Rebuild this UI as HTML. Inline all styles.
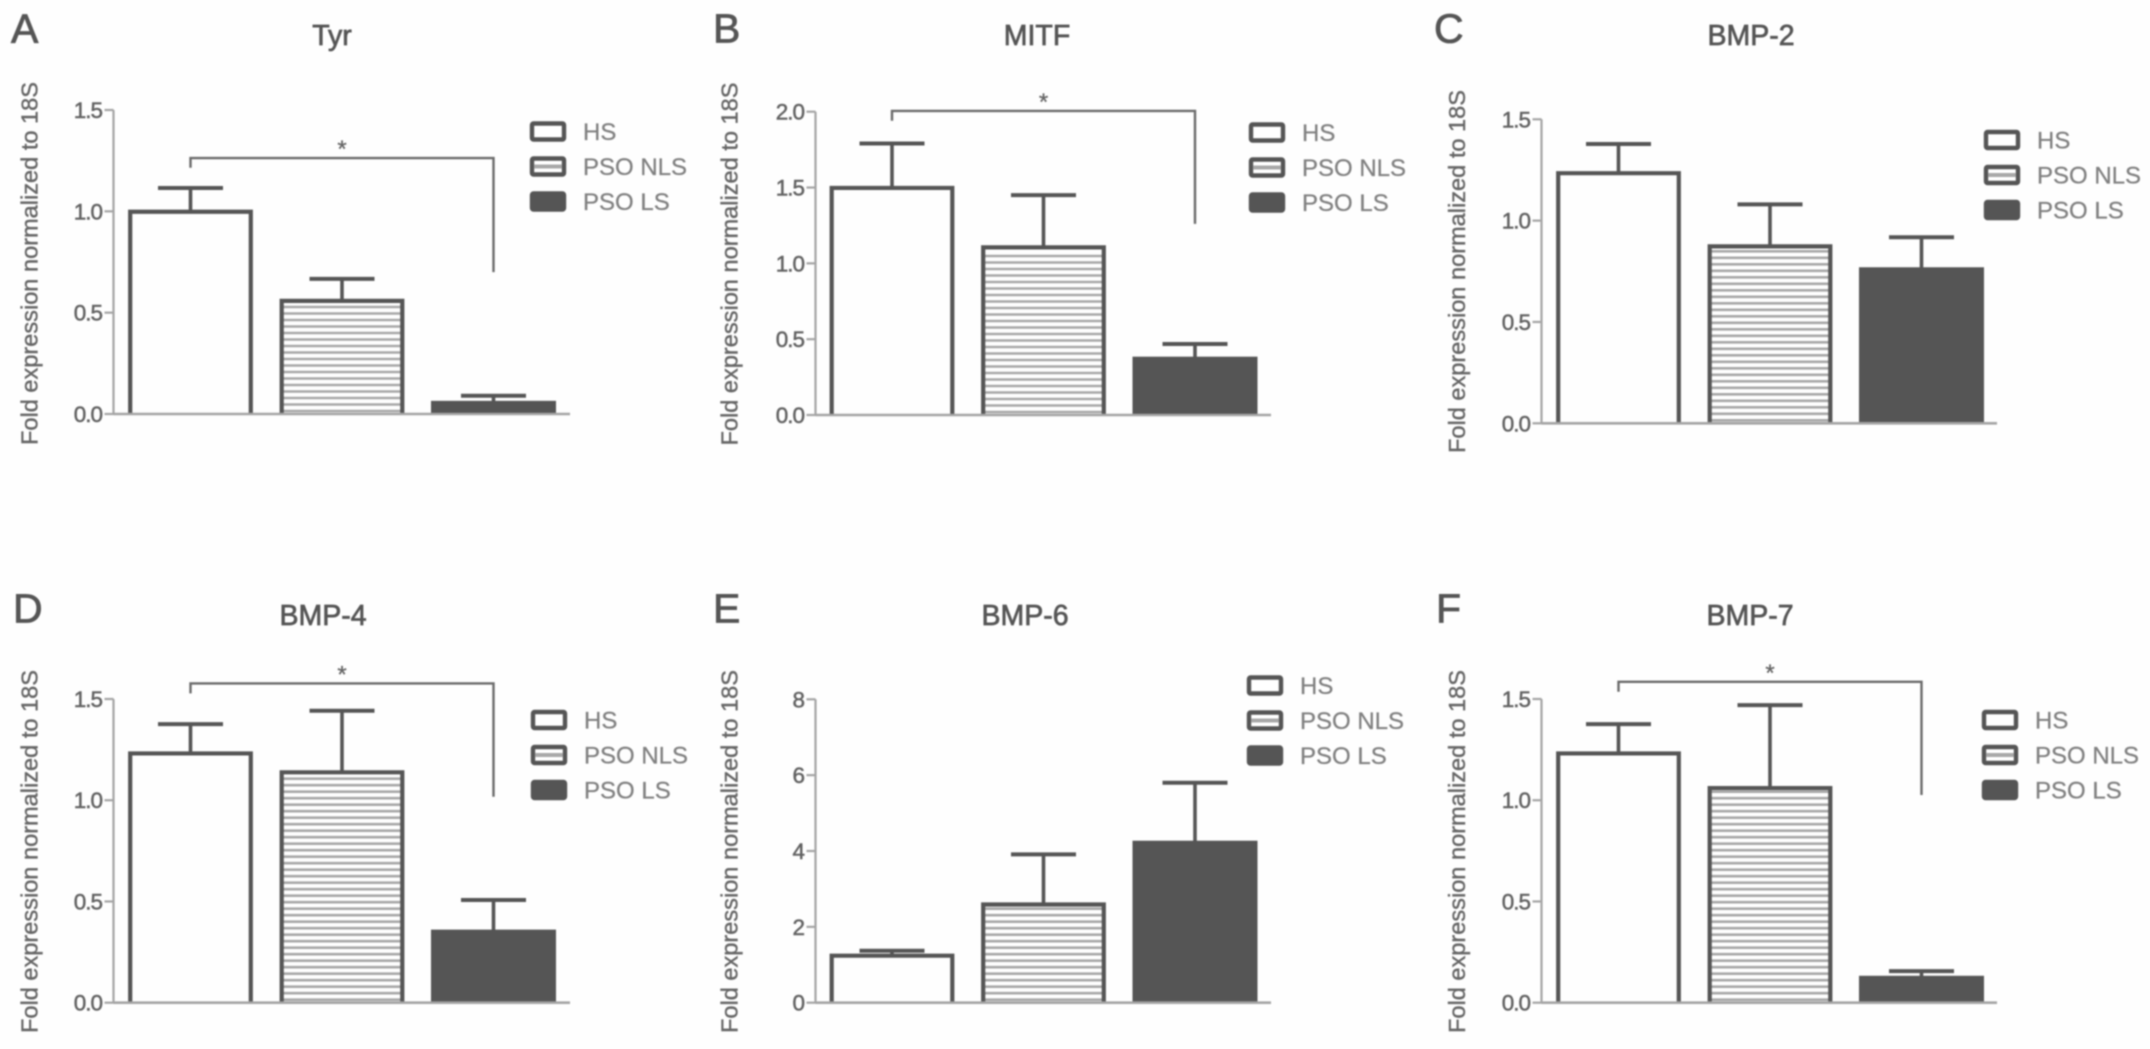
<!DOCTYPE html>
<html lang="en">
<head>
<meta charset="utf-8">
<title>Fold expression of melanogenesis genes</title>
<style>
html,body{margin:0;padding:0;background:#fefefe;width:2150px;height:1049px;overflow:hidden}
svg{display:block;filter:blur(.7px);font-family:"Liberation Sans",Arial,sans-serif}
</style>
</head>
<body>
<svg id="figure" xmlns="http://www.w3.org/2000/svg" width="2150" height="1049" viewBox="0 0 2150 1049"></svg>
<script>
const groups = ['HS', 'PSO NLS', 'PSO LS'];

const panelLetters = ['A', 'B', 'C', 'D', 'E', 'F'];
const panelTitles = ['Tyr', 'MITF', 'BMP-2', 'BMP-4', 'BMP-6', 'BMP-7'];
const yAxisTitle = 'Fold expression normalized to 18S';

const tyrMeans = [1.0, 0.56, 0.06];
const tyrUpper = [1.115, 0.667, 0.09];
const tyrTicks = [0, 0.5, 1.0, 1.5];
const tyrTickLabels = ['0.0', '0.5', '1.0', '1.5'];
const tyrBracket = [1.263, 1.215, 0.70];

const mitfMeans = [1.5, 1.108, 0.378];
const mitfUpper = [1.79, 1.45, 0.468];
const mitfTicks = [0, 0.5, 1.0, 1.5, 2.0];
const mitfTickLabels = ['0.0', '0.5', '1.0', '1.5', '2.0'];
const mitfBracket = [2.005, 1.94, 1.26];

const bmp2Means = [1.236, 0.875, 0.765];
const bmp2Upper = [1.378, 1.08, 0.918];
const bmp2Ticks = [0, 0.5, 1.0, 1.5];
const bmp2TickLabels = ['0.0', '0.5', '1.0', '1.5'];
const bmp2Bracket = null;

const bmp4Means = [1.233, 1.14, 0.356];
const bmp4Upper = [1.376, 1.442, 0.507];
const bmp4Ticks = [0, 0.5, 1.0, 1.5];
const bmp4TickLabels = ['0.0', '0.5', '1.0', '1.5'];
const bmp4Bracket = [1.577, 1.528, 1.017];

const bmp6Means = [1.25, 2.6, 4.245];
const bmp6Upper = [1.37, 3.91, 5.8];
const bmp6Ticks = [0, 2, 4, 6, 8];
const bmp6TickLabels = ['0', '2', '4', '6', '8'];
const bmp6Bracket = null;

const bmp7Means = [1.233, 1.062, 0.128];
const bmp7Upper = [1.376, 1.47, 0.156];
const bmp7Ticks = [0, 0.5, 1.0, 1.5];
const bmp7TickLabels = ['0.0', '0.5', '1.0', '1.5'];
const bmp7Bracket = [1.585, 1.536, 1.026];

const panelMeans = [tyrMeans, mitfMeans, bmp2Means, bmp4Means, bmp6Means, bmp7Means];
const panelUpper = [tyrUpper, mitfUpper, bmp2Upper, bmp4Upper, bmp6Upper, bmp7Upper];
const panelTicks = [tyrTicks, mitfTicks, bmp2Ticks, bmp4Ticks, bmp6Ticks, bmp7Ticks];
const panelTickLabels = [tyrTickLabels, mitfTickLabels, bmp2TickLabels, bmp4TickLabels, bmp6TickLabels, bmp7TickLabels];
const panelBrackets = [tyrBracket, mitfBracket, bmp2Bracket, bmp4Bracket, bmp6Bracket, bmp7Bracket];

/* Layout only (pixels) — no data values here */
const layouts = [
  {axisX:113.5, top:110,   base:414,    barX:128,    lineEnd:570,  titleX:332,  titleY:45,  letterX:11,   letterY:42.7, yTitleX:37.5,   yTitleC:263.5, legX:530,  legY:121.5},
  {axisX:815.5, top:111.7, base:415,    barX:829.5,  lineEnd:1271, titleX:1037, titleY:45,  letterX:713,  letterY:42.7, yTitleX:737.5,  yTitleC:264,   legX:1249, legY:122.5},
  {axisX:1541.5, top:119.3, base:423.3, barX:1556,   lineEnd:1997, titleX:1751, titleY:45,  letterX:1434, letterY:42.7, yTitleX:1465,   yTitleC:271.5, legX:1984, legY:130},
  {axisX:113.5, top:699,   base:1002.7, barX:128,    lineEnd:570,  titleX:323,  titleY:625, letterX:13,   letterY:622.7, yTitleX:37.5,  yTitleC:851.5, legX:531,  legY:710},
  {axisX:815.5, top:699.3, base:1002.7, barX:829.5,  lineEnd:1271, titleX:1025, titleY:625, letterX:713,  letterY:622.7, yTitleX:737.5, yTitleC:851.5, legX:1247, legY:675.5},
  {axisX:1541.5, top:699,  base:1002.7, barX:1556,   lineEnd:1997, titleX:1750, titleY:625, letterX:1436, letterY:622.7, yTitleX:1465,  yTitleC:851.5, legX:1982, legY:710}
];

const barWidth = 125;
const barStep = 151.5;
const ink = '#555555';
const axisInk = '#a4a4a4';
const stripeInk = '#a8a8a8';
const stripeGap = 6.5;
const NS = 'http://www.w3.org/2000/svg';
const figure = document.getElementById('figure');

function make(parent, tag, attrs, text) {
  const node = document.createElementNS(NS, tag);
  for (const key in attrs) node.setAttribute(key, attrs[key]);
  if (text !== undefined) node.textContent = text;
  parent.appendChild(node);
  return node;
}

function slug(s) {
  return s.toLowerCase().replace(/[^a-z0-9]+/g, '-');
}

panelTitles.forEach(function (title, p) {
  const L = layouts[p];
  const ticks = panelTicks[p];
  const yMax = ticks[ticks.length - 1];
  const yScale = function (v) { return L.base - (v / yMax) * (L.base - L.top); };
  const xLeft = function (i) { return L.barX + i * barStep; };
  const xMid = function (i) { return xLeft(i) + barWidth / 2; };

  const g = make(figure, 'g', {});
  
  

  const letter = make(g, 'text', {x: L.letterX, y: L.letterY, 'font-size': 41, fill: ink, stroke: ink, 'stroke-width': 0.8}, panelLetters[p]);
  
  

  const chartTitle = make(g, 'text', {x: L.titleX, y: L.titleY, 'font-size': 28.5, fill: ink, stroke: ink, 'stroke-width': 0.7, 'text-anchor': 'middle'}, title);
  
  

  const yTitle = make(g, 'text', {transform: 'translate(' + L.yTitleX + ' ' + L.yTitleC + ') rotate(-90)', 'font-size': 23, fill: '#666666', stroke: '#666666', 'stroke-width': 0.4, 'text-anchor': 'middle', textLength: 363, lengthAdjust: 'spacingAndGlyphs'}, yAxisTitle);
  
  

  /* y axis, ticks and labels */
  const yAxis = make(g, 'line', {x1: L.axisX, x2: L.axisX, y1: yScale(yMax), y2: L.base, stroke: axisInk, 'stroke-width': 2.2});
  
  

  ticks.forEach(function (t, k) {
    const tick = make(g, 'line', {x1: L.axisX - 9, x2: L.axisX, y1: yScale(t), y2: yScale(t), stroke: axisInk, 'stroke-width': 2.2});
    
    
    const label = make(g, 'text', {x: L.axisX - 11.5, y: yScale(t) + 8, 'font-size': 22.5, 'letter-spacing': -1, fill: '#626262', stroke: '#626262', 'stroke-width': 0.5, 'text-anchor': 'end'}, panelTickLabels[p][k]);
    
    
  });

  /* bars and error bars */
  groups.forEach(function (group, i) {
    const left = xLeft(i);
    const right = left + barWidth;
    const topY = yScale(panelMeans[p][i]);
    const errY = yScale(panelUpper[p][i]);

    const stem = make(g, 'line', {x1: xMid(i), x2: xMid(i), y1: errY, y2: topY, stroke: ink, 'stroke-width': 3.6});
    
    
    const cap = make(g, 'line', {x1: xMid(i) - 32.5, x2: xMid(i) + 32.5, y1: errY, y2: errY, stroke: ink, 'stroke-width': 4});
    
    

    if (i === 2) {
      const solid = make(g, 'rect', {x: left, y: topY - 1, width: barWidth, height: L.base - topY + 1, fill: ink});
      
      
    } else {
      if (i === 1) {
        for (let sy = L.base - 3; sy > topY + 3; sy -= stripeGap) {
          const stripe = make(g, 'line', {x1: left + 2, x2: right - 2, y1: sy, y2: sy, stroke: stripeInk, 'stroke-width': 2.6});
          
          
        }
      }
      const outline = make(g, 'path', {d: 'M' + (left + 2.2) + ' ' + L.base + 'V' + (topY + 0.4) + 'H' + (right - 2.2) + 'V' + L.base, fill: 'none', stroke: ink, 'stroke-width': 4.2});
      
      
    }
  });

  /* x axis baseline */
  const xAxis = make(g, 'line', {x1: L.axisX, x2: L.lineEnd, y1: L.base, y2: L.base, stroke: axisInk, 'stroke-width': 2.6});
  
  

  /* significance bracket */
  const bracket = panelBrackets[p];
  if (bracket) {
    const bracketPath = make(g, 'path', {d: 'M' + xMid(0) + ' ' + yScale(bracket[1]) + 'V' + yScale(bracket[0]) + 'H' + xMid(2) + 'V' + yScale(bracket[2]), fill: 'none', stroke: '#6a6a6a', 'stroke-width': 2.4});
    
    
    const star = make(g, 'text', {x: (xMid(0) + xMid(2)) / 2, y: yScale(bracket[0]) - 1, 'font-size': 24, fill: '#666666', stroke: '#666666', 'stroke-width': 0.3, 'text-anchor': 'middle'}, '*');
    
    
  }

  /* legend */
  groups.forEach(function (group, i) {
    const sy = L.legY + i * 35;
    const entry = make(g, 'g', {});
    
    
    const swatch = make(entry, 'rect', {x: L.legX + 2, y: sy + 2, width: 32, height: 16, rx: 1.5, fill: i === 2 ? ink : '#ffffff', stroke: ink, 'stroke-width': 4.4});
    
    
    if (i === 1) {
      const hatchA = make(entry, 'line', {x1: L.legX + 4, x2: L.legX + 32, y1: sy + 10, y2: sy + 10, stroke: stripeInk, 'stroke-width': 4});
      
      
    }
    const legendText = make(entry, 'text', {x: L.legX + 53, y: sy + 18.5, 'font-size': 24, fill: '#808080', stroke: '#808080', 'stroke-width': 0.25}, group);
    
    
  });
});
</script>
</body>
</html>
